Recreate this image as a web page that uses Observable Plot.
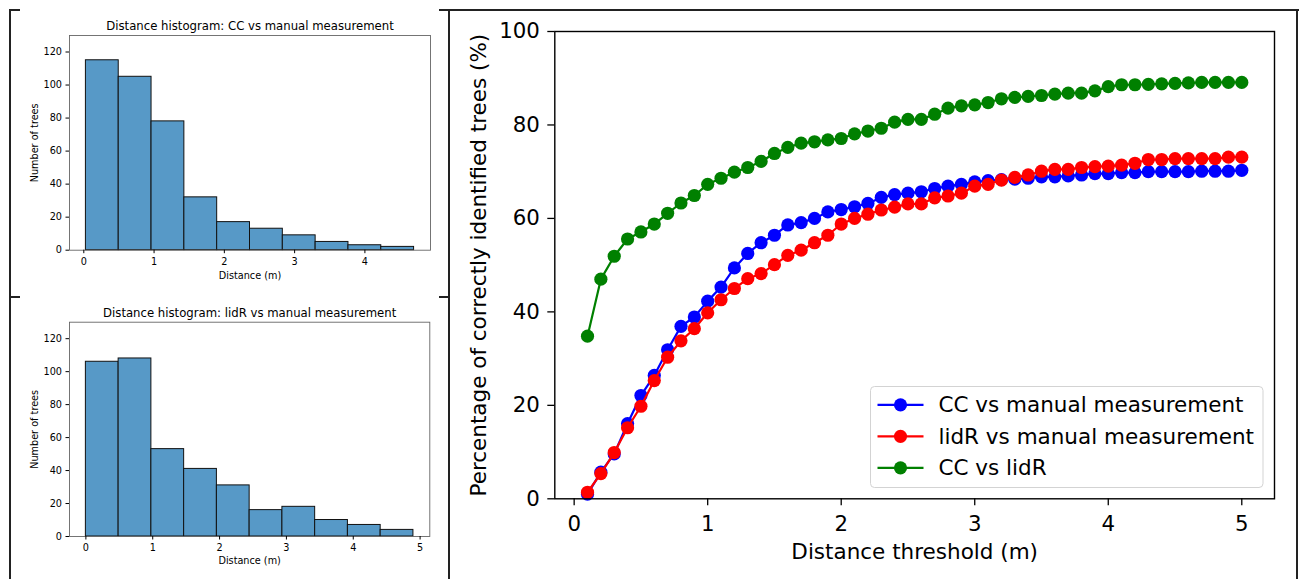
<!DOCTYPE html>
<html><head><meta charset="utf-8">
<script src="https://cdn.jsdelivr.net/npm/d3@7"></script>
<script src="https://cdn.jsdelivr.net/npm/@observablehq/plot@0.6"></script>
<style>
html,body{margin:0;padding:0;background:#fff;}
#root{position:relative;width:1299px;height:579px;overflow:hidden;font-family:"DejaVu Sans",sans-serif;}
#root > div.chart{position:absolute;}
.ln{position:absolute;background:#222;}
</style></head><body><div id="root"></div>
<script>
// ---------- data ----------
const thresholds = [0.1,0.2,0.3,0.4,0.5,0.6,0.7,0.8,0.9,1.0,1.1,1.2,1.3,1.4,1.5,1.6,1.7,1.8,1.9,2.0,2.1,2.2,2.3,2.4,2.5,2.6,2.7,2.8,2.9,3.0,3.1,3.2,3.3,3.4,3.5,3.6,3.7,3.8,3.9,4.0,4.1,4.2,4.3,4.4,4.5,4.6,4.7,4.8,4.9,5.0];
const ccManual = [1.0,5.7,9.6,16.1,22.1,26.4,31.9,36.9,38.9,42.3,45.3,49.4,52.5,54.8,56.4,58.6,59.1,60.0,61.4,61.9,62.5,63.2,64.5,65.1,65.4,65.7,66.4,66.9,67.3,67.8,68.1,68.3,68.4,68.6,68.9,68.9,69.1,69.3,69.6,69.6,69.8,69.8,70.0,70.0,70.0,70.0,70.1,70.1,70.1,70.3];
const lidrManual = [1.4,5.4,9.9,15.2,19.8,25.3,30.3,33.8,36.4,39.8,42.6,45.0,47.1,48.2,50.1,52.1,53.2,54.8,56.4,58.8,60.0,60.9,61.8,62.4,63.1,63.1,64.4,64.8,65.4,66.9,67.3,68.2,68.8,69.3,70.1,70.5,70.5,70.9,71.1,71.2,71.4,71.8,72.6,72.6,72.8,72.8,72.8,72.8,73.1,73.1];
const ccLidr = [34.8,47.0,51.9,55.6,57.1,58.8,61.1,63.3,64.9,67.3,68.6,69.9,70.9,72.2,73.9,75.2,76.1,76.4,76.8,77.1,78.1,78.7,79.3,80.6,81.2,81.2,82.3,83.6,84.1,84.3,84.8,85.6,85.9,86.1,86.3,86.6,86.8,86.8,87.3,88.2,88.6,88.6,88.7,88.8,88.9,89.0,89.1,89.1,89.1,89.1];
const seriesNames = ["CC vs manual measurement","lidR vs manual measurement","CC vs lidR"];
const seriesColors = ["#0000ff","#ff0000","#008000"];
const mainXTicks = [0,1,2,3,4,5];
const mainYTicks = [0,20,40,60,80,100];
const mainXLabel = "Distance threshold (m)";
const mainYLabel = "Percentage of correctly identified trees (%)";

const histCCTitle = "Distance histogram: CC vs manual measurement";
const histCCCounts = [115,105,78,32,17,13,9,5,3,2];
const histCCRange = [0.03,4.70];
const histCCXTicks = [0,1,2,3,4];
const histLidrTitle = "Distance histogram: lidR vs manual measurement";
const histLidrCounts = [106,108,53,41,31,16,18,10,7,4];
const histLidrRange = [0.0,4.90];
const histLidrXTicks = [0,1,2,3,4,5];
const histYTicks = [0,20,40,60,80,100,120];
const histXLabel = "Distance (m)";
const histYLabel = "Number of trees";

const fmt = d => String(d);
const root = document.getElementById("root");
function place(node, left, top){
  const d = document.createElement("div");
  d.className = "chart";
  d.style.left = left + "px"; d.style.top = top + "px";
  d.appendChild(node); root.appendChild(d);
}

// ---------- histograms ----------
function hist(counts, range, xTicks, title, geom){
  const n = counts.length, w = (range[1]-range[0])/n;
  const bins = counts.map((c,i)=>({x1: range[0]+i*w, x2: range[0]+(i+1)*w, c}));
  const pad = (range[1]-range[0])*0.05;
  return Plot.plot({
    width: geom.width, height: geom.height,
    marginLeft: geom.ml, marginRight: geom.mr, marginTop: geom.mt, marginBottom: geom.mb,
    style: {fontFamily: "DejaVu Sans, sans-serif", fontSize: "9.7px", background: "transparent", color: "#000", overflow: "visible"},
    x: {domain: [range[0]-pad, range[1]+pad]},
    y: {domain: [0,130]},
    marks: [
      Plot.rectY(bins, {x1: "x1", x2: "x2", y: "c", fill: "#5799c7", stroke: "#111", strokeWidth: 1}),
      Plot.frame({stroke: "#666", strokeWidth: 0.9}),
      Plot.axisX({ticks: xTicks, tickFormat: fmt, tickSize: 3.5, tickPadding: 4.5, label: null, fontSize: 9.7}),
      Plot.axisY({ticks: histYTicks, tickFormat: fmt, tickSize: 3.5, tickPadding: 4, label: null, fontSize: 9.7}),
      Plot.text([title], {text: d=>d, frameAnchor: "top", lineAnchor: "middle", textAnchor: "middle", dy: -9, fontSize: 11.7}),
      Plot.text([histXLabel], {text: d=>d, frameAnchor: "bottom", lineAnchor: "middle", textAnchor: "middle", dy: geom.xlab, fontSize: 9.7}),
      Plot.text([histYLabel], {text: d=>d, frameAnchor: "left", lineAnchor: "middle", textAnchor: "middle", rotate: -90, dx: -35, fontSize: 9.7})
    ]
  });
}
place(hist(histCCCounts, histCCRange, histCCXTicks, histCCTitle,
  {width: 450, height: 297, ml: 69, mr: 20, mt: 35, mb: 47.3, xlab: 25.3}), 0, 0);
place(hist(histLidrCounts, histLidrRange, histLidrXTicks, histLidrTitle,
  {width: 450, height: 282, ml: 69, mr: 20.7, mt: 24.7, mb: 43, xlab: 24.5}), 0, 297);

// ---------- main chart ----------
const seriesValues = [ccManual, lidrManual, ccLidr];
const mainMarks = [];
seriesNames.forEach((name, i) => {
  const rows = thresholds.map((t, j) => ({series: name, x: t, y: seriesValues[i][j]}));
  mainMarks.push(Plot.line(rows, {x: "x", y: "y", stroke: "series", strokeWidth: 2.2}));
  mainMarks.push(Plot.dot(rows, {x: "x", y: "y", fill: "series", r: 6.6, stroke: null}));
});
const main = Plot.plot({
  width: 849, height: 579,
  marginLeft: 104.3, marginRight: 25, marginTop: 31, marginBottom: 80.7,
  style: {fontFamily: "DejaVu Sans, sans-serif", fontSize: "21px", background: "transparent", color: "#000", overflow: "visible"},
  x: {domain: [-0.145, 5.245]},
  y: {domain: [0, 100]},
  color: {domain: seriesNames, range: seriesColors},
  marks: [
    ...mainMarks,
    Plot.frame({stroke: "#000", strokeWidth: 1.4}),
    Plot.axisX({ticks: mainXTicks, tickFormat: fmt, tickSize: 7, tickPadding: 10.5, label: null, fontSize: 21.3, strokeWidth: 1.3}),
    Plot.axisY({ticks: mainYTicks, tickFormat: fmt, tickSize: 7, tickPadding: 8, label: null, fontSize: 21.3, strokeWidth: 1.3}),
    Plot.text([mainXLabel], {text: d=>d, frameAnchor: "bottom", lineAnchor: "middle", textAnchor: "middle", dy: 53.5, fontSize: 21.5}),
    Plot.text([mainYLabel], {text: d=>d, frameAnchor: "left", lineAnchor: "middle", textAnchor: "middle", rotate: -90, dx: -76, fontSize: 21.5})
  ]
});
place(main, 450, 0);

// ---------- legend (HTML/SVG overlay) ----------
(function(){
  const lg = d3.create("svg").attr("width", 394).attr("height", 103)
    .style("position","absolute").style("left","869.5px").style("top","385.5px").style("overflow","visible");
  lg.append("rect").attr("x",0.5).attr("y",0.5).attr("width",392.5).attr("height",101)
    .attr("rx",4).attr("fill","rgba(255,255,255,0.8)").attr("stroke","#d3d3d3").attr("stroke-width",1);
  seriesNames.forEach((name,i)=>{
    const cy = 18.8 + i*31.5;
    const g = lg.append("g");
    g.append("line").attr("x1",7.5).attr("x2",53.5).attr("y1",cy).attr("y2",cy)
      .attr("stroke",seriesColors[i]).attr("stroke-width",2.2);
    g.append("circle").attr("cx",30.5).attr("cy",cy).attr("r",6.6).attr("fill",seriesColors[i]);
    g.append("text").attr("x",68.5).attr("y",cy).attr("dy","0.35em")
      .attr("font-family","DejaVu Sans, sans-serif").attr("font-size",21.5).attr("fill","#000").text(name);
  });
  root.appendChild(lg.node());
})();

// ---------- panel borders ----------
[
  [9,9,2,570],[9,9,11,2],[9,296,11,2],
  [448,9,2,570],[439,296,10,2],
  [439,9,860,2],[1296,9,2,570]
].forEach(([l,t,w,h])=>{
  const d=document.createElement("div"); d.className="ln";
  d.style.left=l+"px"; d.style.top=t+"px"; d.style.width=w+"px"; d.style.height=h+"px";
  root.appendChild(d);
});
</script></body></html>
